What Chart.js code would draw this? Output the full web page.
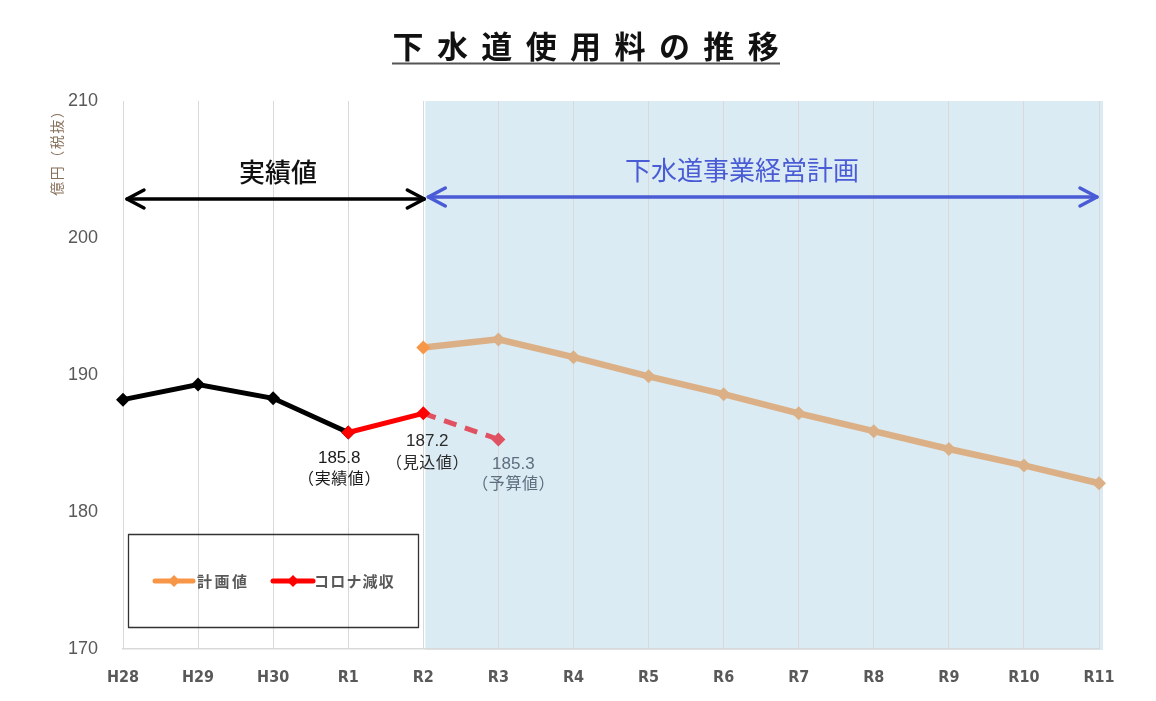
<!DOCTYPE html>
<html>
<head>
<meta charset="utf-8">
<script src="https://cdn.jsdelivr.net/npm/chart.js@4/dist/chart.umd.min.js"></script>
<style>
  html, body { margin: 0; padding: 0; background: #fff; }
  #wrap { width: 1156px; height: 701px; position: relative; }
</style>
</head>
<body>
<div id="wrap"><canvas id="c" width="1156" height="701"></canvas></div>
<script>
// ---- data ----
const categories = ["H28","H29","H30","R1","R2","R3","R4","R5","R6","R7","R8","R9","R10","R11"];
const actualValues = [188.2, 189.3, 188.3, 185.8, null, null, null, null, null, null, null, null, null, null];
const coronaValues = [null, null, null, 185.8, 187.2, null, null, null, null, null, null, null, null, null];
const budgetValues = [null, null, null, null, 187.2, 185.3, null, null, null, null, null, null, null, null];
const planValues   = [null, null, null, null, 192.0, 192.6, 191.3, 189.9, 188.6, 187.2, 185.9, 184.6, 183.4, 182.1];
const yTicks = [170, 180, 190, 200, 210];
const titleText = "下水道使用料の推移";
const yAxisTitle = "億円（税抜）";
const legendLabels = ["計画値", "コロナ減収"];
const pointNotes = [
  { idx: 3, value: 185.8, lines: ["185.8", "（実績値）"] },
  { idx: 4, value: 187.2, lines: ["187.2", "（見込値）"] },
  { idx: 5, value: 185.3, lines: ["185.3", "（予算値）"] }
];
const periodLabels = ["実績値", "下水道事業経営計画"];

const JP = "'Noto Sans CJK JP', 'Noto Sans', sans-serif";

function arrowHead(ctx, x, y, dir, len, half) {
  ctx.beginPath();
  ctx.moveTo(x - dir * len, y - half);
  ctx.lineTo(x, y);
  ctx.lineTo(x - dir * len, y + half);
  ctx.stroke();
}

// draw a string char by char with fixed step, centred on cx
function monoText(ctx, str, cx, cy, step) {
  const chars = Array.from(str);
  const start = cx - (chars.length - 1) * step / 2;
  chars.forEach((ch, i) => ctx.fillText(ch, start + i * step, cy));
}

const decor = {
  id: 'decor',
  beforeDraw(chart) {
    const { ctx, chartArea, scales } = chart;
    ctx.save();
    ctx.fillStyle = '#ffffff';
    ctx.fillRect(0, 0, chart.width, chart.height);
    const x0 = scales.x.getPixelForValue(4) + 2;
    const x1 = scales.x.getPixelForValue(13) + 4;
    ctx.fillStyle = '#dbebf3';
    ctx.fillRect(x0, chartArea.top, x1 - x0, chartArea.bottom - chartArea.top + 1);
    ctx.restore();
  },
  afterDraw(chart) {
    const { ctx, scales } = chart;
    const xs = scales.x, ys = scales.y;
    ctx.save();

    // Title with spaced characters and underline
    ctx.fillStyle = '#111';
    ctx.font = "bold 31px " + JP;
    ctx.textAlign = 'center';
    ctx.textBaseline = 'middle';
    monoText(ctx, titleText, 585.6, 46, 44.4);
    ctx.strokeStyle = '#555';
    ctx.lineWidth = 2.2;
    ctx.beginPath();
    ctx.moveTo(392, 63.5); ctx.lineTo(780, 63.5); ctx.stroke();

    // Y axis title (vertical)
    ctx.save();
    ctx.translate(57, 150);
    ctx.rotate(-Math.PI / 2);
    ctx.fillStyle = '#86705a';
    ctx.font = "14px " + JP;
    ctx.textAlign = 'center';
    ctx.textBaseline = 'middle';
    monoText(ctx, yAxisTitle, 0, 0, 15.5);
    ctx.restore();

    // Period arrows
    const xa0 = xs.getPixelForValue(0) + 4;
    const xa1 = xs.getPixelForValue(4) + 1;
    ctx.strokeStyle = '#000';
    ctx.lineWidth = 3.5;
    ctx.lineCap = 'round';
    ctx.lineJoin = 'round';
    ctx.beginPath(); ctx.moveTo(xa0, 199); ctx.lineTo(xa1, 199); ctx.stroke();
    arrowHead(ctx, xa0, 199, -1, 17, 9);
    arrowHead(ctx, xa1, 199, 1, 17, 9);

    const xb0 = xs.getPixelForValue(4) + 5;
    const xb1 = xs.getPixelForValue(13) - 2;
    ctx.strokeStyle = '#4a5bd6';
    ctx.beginPath(); ctx.moveTo(xb0, 197); ctx.lineTo(xb1, 197); ctx.stroke();
    arrowHead(ctx, xb0, 197, -1, 17, 9);
    arrowHead(ctx, xb1, 197, 1, 17, 9);

    ctx.textAlign = 'center';
    ctx.textBaseline = 'middle';
    ctx.font = "500 26px " + JP;
    ctx.fillStyle = '#111';
    ctx.fillText(periodLabels[0], 278, 172);
    ctx.fillStyle = '#4a5bd6';
    ctx.font = "26px " + JP;
    ctx.fillText(periodLabels[1], 742, 170);

    // Point notes
    const noteStyle = [
      { dx: -9, dy1: 26, dy2: 45, color: '#1a1a1a' },
      { dx: 4, dy1: 28, dy2: 49, color: '#2a2a2a' },
      { dx: 15, dy1: 25, dy2: 44, color: '#5d6e7e' }
    ];
    pointNotes.forEach((n, i) => {
      const s = noteStyle[i];
      const px = xs.getPixelForValue(n.idx) + s.dx;
      const py = ys.getPixelForValue(n.value);
      ctx.fillStyle = s.color;
      ctx.font = "17px 'Liberation Sans', sans-serif";
      ctx.fillText(n.lines[0], px, py + s.dy1);
      ctx.font = "16px " + JP;
      monoText(ctx, n.lines[1], px, py + s.dy2, 16.6);
    });

    // Legend box
    ctx.strokeStyle = '#333';
    ctx.lineWidth = 1.3;
    ctx.strokeRect(128.5, 534.5, 290, 93);
    const items = [
      { x0: 155, x1: 193, color: '#f79646', text: legendLabels[0], tx: 197, step: 17.5 },
      { x0: 273, x1: 313, color: '#ff0000', text: legendLabels[1], tx: 314, step: 16.2 }
    ];
    ctx.font = "bold 15px " + JP;
    ctx.textAlign = 'left';
    items.forEach(it => {
      ctx.strokeStyle = it.color;
      ctx.lineWidth = 5;
      ctx.lineCap = 'round';
      ctx.beginPath(); ctx.moveTo(it.x0, 581); ctx.lineTo(it.x1, 581); ctx.stroke();
      const mx = (it.x0 + it.x1) / 2;
      ctx.fillStyle = it.color;
      ctx.beginPath();
      ctx.moveTo(mx, 575); ctx.lineTo(mx + 6, 581); ctx.lineTo(mx, 587); ctx.lineTo(mx - 6, 581);
      ctx.closePath(); ctx.fill();
      ctx.fillStyle = '#595959';
      Array.from(it.text).forEach((ch, k) => ctx.fillText(ch, it.tx + k * it.step, 581));
    });

    ctx.restore();
  }
};

const planPointColors = planValues.map((v, i) => i === 4 ? '#f79646' : '#dcb086');
const budgetRadius = budgetValues.map((v, i) => i === 5 ? 7 : 0);

new Chart(document.getElementById('c'), {
  type: 'line',
  data: {
    labels: categories,
    datasets: [
      {
        label: '計画値',
        data: planValues,
        borderColor: '#dcb086',
        borderWidth: 6.5,
        pointStyle: 'rectRot',
        pointRadius: 7,
        pointBackgroundColor: planPointColors,
        pointBorderColor: planPointColors,
        pointBorderWidth: 0,
        order: 4
      },
      {
        label: '予算値',
        data: budgetValues,
        borderColor: '#e05262',
        borderWidth: 5,
        borderDash: [13, 9],
        pointStyle: 'rectRot',
        pointRadius: budgetRadius,
        pointBackgroundColor: '#e05262',
        pointBorderWidth: 0,
        order: 3
      },
      {
        label: '実績値',
        data: actualValues,
        borderColor: '#000000',
        borderWidth: 5,
        pointStyle: 'rectRot',
        pointRadius: 7,
        pointBackgroundColor: '#000000',
        pointBorderWidth: 0,
        order: 2
      },
      {
        label: 'コロナ減収',
        data: coronaValues,
        borderColor: '#ff0000',
        borderWidth: 5,
        pointStyle: 'rectRot',
        pointRadius: 7,
        pointBackgroundColor: '#ff0000',
        pointBorderWidth: 0,
        order: 1
      }
    ]
  },
  options: {
    responsive: false,
    animation: false,
    devicePixelRatio: 1,
    layout: { padding: { top: 101, right: 57, left: 0, bottom: 0 } },
    plugins: {
      legend: { display: false },
      title: { display: false },
      tooltip: { enabled: false }
    },
    elements: { line: { tension: 0 } },
    scales: {
      x: {
        type: 'category',
        offset: false,
        grid: { color: '#d9d9d9', lineWidth: 1, drawTicks: false },
        border: { display: true, color: '#d9d9d9', width: 1.5 },
        ticks: {
          padding: 19,
          color: '#595959',
          font: { family: "'Liberation Sans Narrow', 'DejaVu Sans Condensed', sans-serif", size: 16, weight: 'bold' },
          maxRotation: 0
        },
        afterFit(scale) { scale.height = 52; }
      },
      y: {
        min: 170,
        max: 210,
        afterBuildTicks(scale) { scale.ticks = yTicks.map(v => ({ value: v })); },
        grid: { display: false },
        border: { display: false },
        ticks: {
          padding: 17,
          color: '#595959',
          font: { family: "'Liberation Sans', sans-serif", size: 18 }
        },
        afterFit(scale) { scale.width = 123; }
      }
    }
  },
  plugins: [decor]
});
</script>
</body>
</html>
